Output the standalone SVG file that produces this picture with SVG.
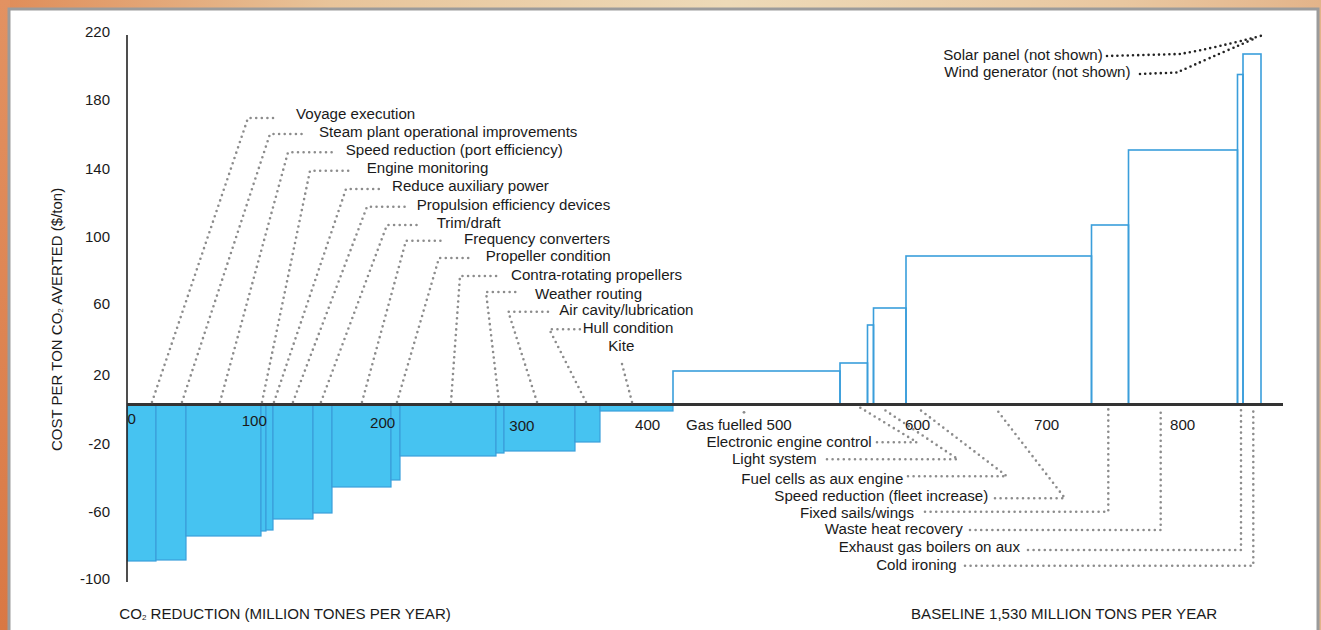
<svg xmlns="http://www.w3.org/2000/svg" width="1321" height="630" viewBox="0 0 1321 630">
<defs>
<linearGradient id="gTop" x1="0" y1="0" x2="1" y2="0">
<stop offset="0" stop-color="#df8c58"/>
<stop offset="0.25" stop-color="#e8c49a"/>
<stop offset="0.55" stop-color="#eddab8"/>
<stop offset="0.85" stop-color="#e9c7a0"/>
<stop offset="1" stop-color="#e3b48a"/>
</linearGradient>
<linearGradient id="gLeft" x1="0" y1="0" x2="0" y2="1">
<stop offset="0" stop-color="#e29262"/>
<stop offset="1" stop-color="#d97844"/>
</linearGradient>
</defs>
<style>
.t{font-family:"Liberation Sans",Arial,sans-serif;font-size:15.1px;fill:#1a1a1a}
.ax{font-family:"Liberation Sans",Arial,sans-serif;font-size:15px;fill:#1a1a1a;text-anchor:end}
.e{text-anchor:end}
.neg{fill:#46c3f1;stroke:#3a9edb;stroke-width:1.2}
.pos{fill:none;stroke:#3a9edb;stroke-width:1.6}
.lead{fill:none;stroke:#8c8c8c;stroke-width:2.6;stroke-linecap:round;stroke-linejoin:round;stroke-dasharray:0 5.6}
.leadk{fill:none;stroke:#222;stroke-width:2.6;stroke-linecap:round;stroke-dasharray:0 5.2}
</style>
<rect x="0" y="0" width="1321" height="630" fill="url(#gTop)"/>
<rect x="0" y="0" width="10" height="630" fill="url(#gLeft)"/>
<rect x="9" y="9" width="1309" height="640" fill="#ffffff" stroke="#9b9b9b" stroke-width="3"/>

<g id="bars-negative">
<rect class="neg" x="127.5" y="404" width="28.5" height="157"/>
<rect class="neg" x="156" y="404" width="30" height="156"/>
<rect class="neg" x="186" y="404" width="75" height="132"/>
<rect class="neg" x="261" y="404" width="5" height="127"/>
<rect class="neg" x="266" y="404" width="7" height="126"/>
<rect class="neg" x="273" y="404" width="40" height="115"/>
<rect class="neg" x="313" y="404" width="19" height="109"/>
<rect class="neg" x="332" y="404" width="59" height="83"/>
<rect class="neg" x="391" y="404" width="9" height="76"/>
<rect class="neg" x="400" y="404" width="96" height="52"/>
<rect class="neg" x="496" y="404" width="8" height="49"/>
<rect class="neg" x="504" y="404" width="71" height="47"/>
<rect class="neg" x="575" y="404" width="25" height="38"/>
<rect class="neg" x="600" y="404" width="73" height="7"/>
</g>
<g id="bars-positive">
<rect class="pos" x="673" y="371" width="167" height="33"/>
<rect class="pos" x="840" y="363" width="27.5" height="41"/>
<rect class="pos" x="867.5" y="325" width="6" height="79"/>
<rect class="pos" x="873.5" y="308" width="32.5" height="96"/>
<rect class="pos" x="906" y="256" width="185.5" height="148"/>
<rect class="pos" x="1091.5" y="225" width="37" height="179"/>
<rect class="pos" x="1128.5" y="150" width="109" height="254"/>
<rect class="pos" x="1237.5" y="74.5" width="5.5" height="329.5"/>
<rect class="pos" x="1243" y="54" width="18" height="350"/>
</g>

<g id="axes">
<line x1="127" y1="35" x2="127" y2="582" stroke="#222" stroke-width="1.6"/>
<line x1="127" y1="404.5" x2="1283" y2="404.5" stroke="#333" stroke-width="3"/>
<text class="ax" x="110" y="36.5">220</text>
<text class="ax" x="110" y="105">180</text>
<text class="ax" x="110" y="174">140</text>
<text class="ax" x="110" y="241.7">100</text>
<text class="ax" x="110" y="309">60</text>
<text class="ax" x="110" y="380">20</text>
<text class="ax" x="110" y="449.3">-20</text>
<text class="ax" x="110" y="516.7">-60</text>
<text class="ax" x="110" y="584.3">-100</text>
<text class="t" x="127.5" y="423.5">0</text>
<text class="t" x="241.7" y="425.7">100</text>
<text class="t" x="370" y="428">200</text>
<text class="t" x="509.3" y="431">300</text>
<text class="t" x="635" y="430">400</text>
<text class="t" x="905" y="430">600</text>
<text class="t" x="1034" y="430">700</text>
<text class="t" x="1170" y="430">800</text>
<text class="t" transform="translate(62,451) rotate(-90)" style="font-size:15px">COST PER TON CO<tspan style="font-size:8px" dy="1">2</tspan><tspan dy="-1"> AVERTED ($/ton)</tspan></text>
<text class="t" x="119.3" y="619.3">CO<tspan style="font-size:8px" dy="1">2</tspan><tspan dy="-1"> REDUCTION (MILLION TONES PER YEAR)</tspan></text>
<text class="t" x="911" y="619">BASELINE 1,530 MILLION TONS PER YEAR</text>
</g>

<g id="connectors">
<polyline class="lead" points="152,402 248,118 277,118"/>
<polyline class="lead" points="182,402 270,134 302,134"/>
<polyline class="lead" points="220,402 288,152.3 332,152.3"/>
<polyline class="lead" points="262,402 310,170.7 352,170.7"/>
<polyline class="lead" points="274,402 346,189 382,189"/>
<polyline class="lead" points="293,402 367,206.7 405,206.7"/>
<polyline class="lead" points="321,402 387,225 419,225"/>
<polyline class="lead" points="362,402 406,240.7 445,240.7"/>
<polyline class="lead" points="397,402 439,258 470,258"/>
<polyline class="lead" points="451,402 460,276 497,276"/>
<polyline class="lead" points="499,402 486,292 518,292"/>
<polyline class="lead" points="537,402 508.3,311.7 548,311.7"/>
<polyline class="lead" points="586,402 549.3,329.3 581,329.3"/>
<polyline class="lead" points="632,402 622,364"/>
<circle cx="744" cy="412.3" r="1.4" fill="#8c8c8c"/>
<polyline class="lead" points="877,442.3 917,442.3 860,407.5"/>
<polyline class="lead" points="827,459.3 958,459.3 881,407.5"/>
<polyline class="lead" points="908,476.3 1007,476.3 917,407.5"/>
<polyline class="lead" points="995,498.3 1065,498.3 995,407.5"/>
<polyline class="lead" points="925,511.7 1108.3,511.7 1108.3,408"/>
<polyline class="lead" points="970,530 1160.7,530 1160.7,408"/>
<polyline class="lead" points="1028,550 1241,550 1241,408"/>
<polyline class="lead" points="965,565.7 1253.3,565.7 1253.3,408"/>
<path class="leadk" d="M1107,56 L1180,54 Q1215,48 1264,35"/>
<path class="leadk" d="M1140,74 L1177,72.5 Q1205,60 1257,37.5"/>
</g>

<g id="label-voyage"><text class="t" x="296" y="119">Voyage execution</text></g>
<g id="label-steam"><text class="t" x="319" y="137.3">Steam plant operational improvements</text></g>
<g id="label-speed-port"><text class="t" x="345.7" y="155.3">Speed reduction (port efficiency)</text></g>
<g id="label-engine"><text class="t" x="366.7" y="173.3">Engine monitoring</text></g>
<g id="label-aux"><text class="t" x="392" y="190.7">Reduce auxiliary power</text></g>
<g id="label-propulsion"><text class="t" x="416.7" y="209.7">Propulsion efficiency devices</text></g>
<g id="label-trim"><text class="t" x="436.7" y="228">Trim/draft</text></g>
<g id="label-freq"><text class="t" x="464" y="244.4">Frequency converters</text></g>
<g id="label-propeller"><text class="t" x="485.7" y="261">Propeller condition</text></g>
<g id="label-contra"><text class="t" x="511" y="280">Contra-rotating propellers</text></g>
<g id="label-weather"><text class="t" x="535" y="299">Weather routing</text></g>
<g id="label-air"><text class="t" x="559.3" y="315.4">Air cavity/lubrication</text></g>
<g id="label-hull"><text class="t" x="582.7" y="333">Hull condition</text></g>
<g id="label-kite"><text class="t" x="608.3" y="351">Kite</text></g>
<g id="label-gas"><text class="t" x="686" y="430">Gas fuelled 500</text></g>
<g id="label-electronic"><text class="t e" x="871.7" y="447.3">Electronic engine control</text></g>
<g id="label-light"><text class="t e" x="816.7" y="464.3">Light system</text></g>
<g id="label-fuelcells"><text class="t e" x="903.3" y="484">Fuel cells as aux engine</text></g>
<g id="label-speed-fleet"><text class="t e" x="988.3" y="500.7">Speed reduction (fleet increase)</text></g>
<g id="label-sails"><text class="t e" x="914" y="517.7">Fixed sails/wings</text></g>
<g id="label-waste"><text class="t e" x="962.7" y="534">Waste heat recovery</text></g>
<g id="label-exhaust"><text class="t e" x="1020" y="552.3">Exhaust gas boilers on aux</text></g>
<g id="label-cold"><text class="t e" x="956.7" y="570">Cold ironing</text></g>
<g id="label-solar"><text class="t" x="943.3" y="60.3">Solar panel (not shown)</text></g>
<g id="label-wind"><text class="t" x="944.3" y="76.7">Wind generator (not shown)</text></g>
</svg>
